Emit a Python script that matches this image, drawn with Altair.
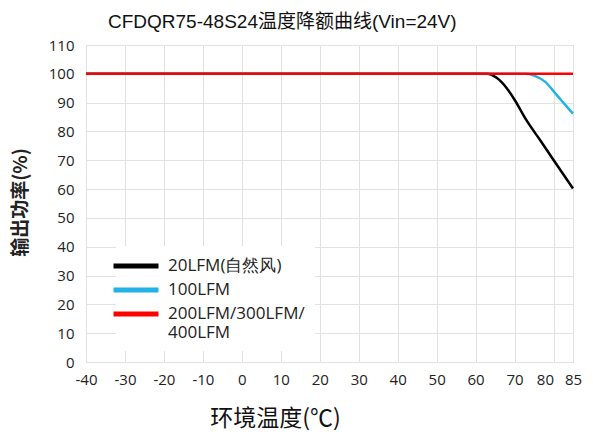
import altair as alt
import pandas as pd

title_text = "CFDQR75-48S24温度降额曲线(Vin=24V)"
series_names = ["20LFM(自然风)", "100LFM", "200LFM/300LFM/400LFM"]
series_colors = ["#000000", "#22b2e6", "#ff0000"]

temp_20 = [-40, 63, 65.4, 68, 70, 73, 76.5, 80, 85]
power_20 = [100, 100, 98.6, 95, 91, 84, 77.1, 70.1, 60.2]

temp_100 = [-40, 73, 75.2, 77.8, 80.8, 83.4, 85]
power_100 = [100, 100, 99.3, 97.3, 92.7, 88.6, 86.2]

temp_200 = [-40, 85]
power_200 = [100, 100]

x_ticks = [-40, -30, -20, -10, 0, 10, 20, 30, 40, 50, 60, 70, 80, 85]
y_ticks = [0, 10, 20, 30, 40, 50, 60, 70, 80, 90, 100, 110]

rows = []
for name, ts, ps in zip(series_names, [temp_20, temp_100, temp_200], [power_20, power_100, power_200]):
    for i, (t, p) in enumerate(zip(ts, ps)):
        rows.append({"series": name, "temp": t, "power": p, "idx": i})
df = pd.DataFrame(rows)

label_expr = ("datum.label == '200LFM/300LFM/400LFM' ? "
              "['200LFM/300LFM/', '400LFM'] : datum.label")

chart = alt.Chart(df).mark_line(strokeWidth=2.5, interpolate="monotone").encode(
    x=alt.X("temp:Q",
            scale=alt.Scale(domain=[-40, 85], nice=False, zero=False),
            axis=alt.Axis(values=x_ticks, title="环境温度(℃)", domain=False, ticks=False,
                          labelPadding=10, labelFontSize=15, labelColor="#222",
                          labelFont="Open Sans", gridColor="#e2e2e2",
                          labelOverlap=False, labelFlush=False,
                          labelExpr="'' + datum.value",
                          labelAlign={"condition": {"test": "datum.value == 80", "value": "right"},
                                      "value": "center"},
                          titleFont="Noto Sans CJK SC", titleFontSize=23,
                          titleFontWeight="normal", titleColor="#111",
                          titleX=189, titleY=56, titleBaseline="middle",
                          titleAlign="center")),
    y=alt.Y("power:Q",
            scale=alt.Scale(domain=[0, 110], nice=False),
            axis=alt.Axis(values=y_ticks, title="输出功率(%)", domain=False, ticks=False,
                          labelPadding=12, labelFontSize=15, labelColor="#222",
                          labelFont="Open Sans", gridColor="#e2e2e2",
                          labelOverlap=False,
                          titleFont="Noto Sans CJK SC", titleFontSize=19,
                          titleFontWeight="bold", titleColor="#222",
                          titleX=-66, titleY=157, titleBaseline="middle",
                          titleAlign="center")),
    color=alt.Color("series:N",
                    scale=alt.Scale(domain=series_names, range=series_colors),
                    title=None,
                    legend=alt.Legend(orient="none", legendX=30, legendY=201,
                                      fillColor="white", padding=10,
                                      symbolType="M-3,0H3", symbolSize=225,
                                      symbolStrokeWidth=5, labelFontSize=17,
                                      labelFont="Open Sans", labelColor="#222",
                                      labelFontWeight=500,
                                      labelExpr=label_expr, rowPadding=4,
                                      labelOffset=22, labelLimit=400)),
    order=alt.Order("idx:Q"),
).properties(
    width=487,
    height=317,
    title=alt.TitleParams(title_text, anchor="start", frame="group", dx=22,
                          offset=6, fontSize=19, fontWeight="normal",
                          font="Liberation Sans, Noto Sans CJK SC", color="#111"),
    autosize=alt.AutoSizeParams(type="none"),
    padding={"left": 78, "top": 37, "right": 12, "bottom": 68},
).configure_view(
    stroke="#333", strokeWidth=1.5
).configure(background="white")

chart.save("out.html", embed_options={"renderer": "svg", "actions": False})
